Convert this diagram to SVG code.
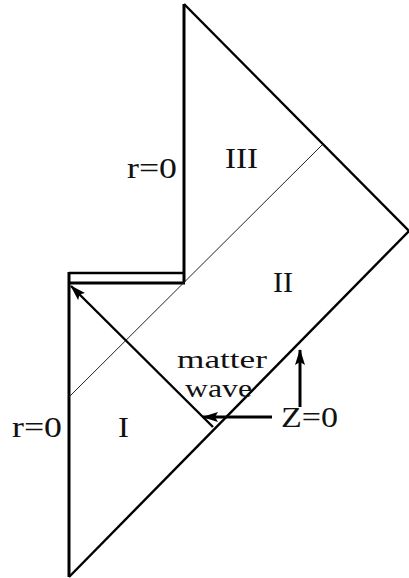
<svg xmlns="http://www.w3.org/2000/svg" width="409" height="578" viewBox="0 0 409 578">
<style>
text{font-family:"Liberation Serif","Times New Roman",serif;font-size:30px;fill:#111}
.sm{font-size:26px}
.thick{stroke:#000;stroke-width:3;fill:none}
.med{stroke:#000;stroke-width:2.4;fill:none}
.thin{stroke:#222;stroke-width:1;fill:none}
</style>
<defs>
<marker id="ah2" markerWidth="16" markerHeight="10" refX="15" refY="5" orient="auto" markerUnits="userSpaceOnUse" viewBox="0 0 16 10">
<path d="M0,0 L16,5 L0,10 L3,5 Z" fill="#000"/>
</marker>
</defs>
<g id="boundary">
<path class="thick" d="M184,282 L184,4"/>
<path class="med" d="M184,4 L409,231"/>
<path class="med" d="M409,231 L69,577"/>
<path class="thick" d="M69,577 L69,272"/>
<path class="med" d="M69,273 L185,273"/>
<path class="thick" d="M69,283 L185,283"/>
</g>
<g id="horizon">
<path class="thin" d="M69,397 L322,145"/>
</g>
<g id="connectors">
<path class="med" d="M213,427 L71,286" marker-end="url(#ah2)"/>
<path class="thick" d="M272,417 L203,417" marker-end="url(#ah2)"/>
<path class="thick" d="M300,407 L300,350" marker-end="url(#ah2)"/>
</g>
<g id="labels">
<text x="127" y="178" textLength="50" lengthAdjust="spacingAndGlyphs">r=0</text>
<text x="225" y="168" textLength="33" lengthAdjust="spacingAndGlyphs">III</text>
<text x="273" y="292" textLength="20" lengthAdjust="spacingAndGlyphs">II</text>
<text class="sm" x="177" y="368" textLength="90" lengthAdjust="spacingAndGlyphs">matter</text>
<text class="sm" x="185" y="397" textLength="67" lengthAdjust="spacingAndGlyphs">wave</text>
<text x="281" y="427" textLength="57" lengthAdjust="spacingAndGlyphs">Z=0</text>
<text x="12" y="437" textLength="50" lengthAdjust="spacingAndGlyphs">r=0</text>
<text x="118" y="437" textLength="11" lengthAdjust="spacingAndGlyphs">I</text>
</g>
</svg>
